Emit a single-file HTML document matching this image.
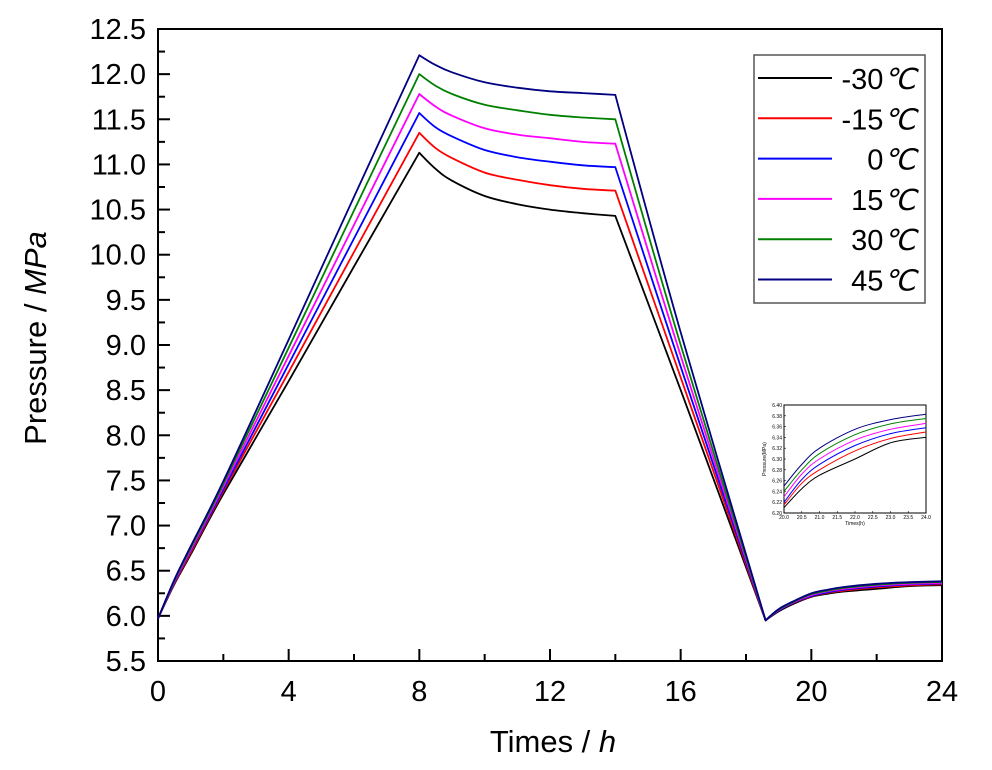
<!DOCTYPE html>
<html><head><meta charset="utf-8"><style>
body{margin:0;background:#fff;}
svg text{font-family:"Liberation Sans",sans-serif;}
</style></head><body>
<svg id="chart" width="992" height="765" xmlns="http://www.w3.org/2000/svg">
<g id="axes"></g>
<g id="series"></g>
<g id="legend"></g>
<g id="inset"></g>
</svg>
<script>
const times = [0,0.5,1,2,4,6,8,8.5,9,10,11,12,13,14,16,18.6,19,19.5,20,20.5,21,22,23,24];
const seriesNames = ["-30","-15","0","15","30","45"];
const seriesColors = ["#000000","#ff0000","#0000ff","#ff00ff","#008000","#000080"];
const sM30 = [5.97,6.35,6.68,7.35,8.6,9.87,11.13,10.95,10.82,10.65,10.56,10.5,10.46,10.43,8.5,5.95,6.05,6.14,6.21,6.245,6.27,6.30,6.33,6.34];
const sM15 = [5.97,6.36,6.7,7.38,8.7,10.03,11.35,11.18,11.07,10.91,10.83,10.77,10.73,10.71,8.64,5.95,6.06,6.15,6.215,6.255,6.28,6.315,6.338,6.35];
const s0 = [5.97,6.37,6.72,7.4,8.79,10.18,11.57,11.41,11.31,11.16,11.08,11.03,10.99,10.97,8.76,5.95,6.06,6.155,6.22,6.262,6.29,6.325,6.347,6.358];
const s15 = [5.97,6.38,6.73,7.43,8.88,10.33,11.78,11.64,11.54,11.40,11.33,11.29,11.25,11.23,8.88,5.95,6.065,6.16,6.23,6.272,6.30,6.335,6.355,6.366];
const s30 = [5.97,6.39,6.75,7.46,8.97,10.49,12.0,11.87,11.78,11.66,11.60,11.55,11.52,11.50,9.0,5.95,6.07,6.165,6.24,6.28,6.31,6.345,6.365,6.375];
const s45 = [5.97,6.40,6.77,7.49,9.06,10.64,12.21,12.10,12.02,11.91,11.85,11.81,11.79,11.77,9.14,5.95,6.075,6.17,6.25,6.29,6.32,6.355,6.373,6.383];
const allSeries = [sM30,sM15,s0,s15,s30,s45];
const xTicks = [0,4,8,12,16,20,24];
const yTicks = [5.5,6.0,6.5,7.0,7.5,8.0,8.5,9.0,9.5,10.0,10.5,11.0,11.5,12.0,12.5];
const insetXTicks = [20.0,20.5,21.0,21.5,22.0,22.5,23.0,23.5,24.0];
const insetYTicks = [6.20,6.22,6.24,6.26,6.28,6.30,6.32,6.34,6.36,6.38,6.40];

const NS="http://www.w3.org/2000/svg";
const L=158,R=942,T=29,B=661;
const x=h=>L+(h-0)/24*(R-L);
const y=v=>B-(v-5.5)/7*(B-T);
function mk(tag,attrs,parent){const e=document.createElementNS(NS,tag);for(const k in attrs)e.setAttribute(k,attrs[k]);parent.appendChild(e);return e;}
const corners=[6,13,15];
function smooth(pts){let d='M'+pts[0][0].toFixed(1)+','+pts[0][1].toFixed(1);
 for(let i=0;i<pts.length-1;i++){const p0=pts[i-1]||pts[i],p1=pts[i],p2=pts[i+1],p3=pts[i+2]||p2;
  const k=corners.includes(i)?0:1/6;
  const kb=corners.includes(i+1)?0:1/6;
  const c1=[p1[0]+(p2[0]-p0[0])*k,p1[1]+(p2[1]-p0[1])*k],c2=[p2[0]-(p3[0]-p1[0])*kb,p2[1]-(p3[1]-p1[1])*kb];
  d+='C'+c1[0].toFixed(1)+','+c1[1].toFixed(1)+' '+c2[0].toFixed(1)+','+c2[1].toFixed(1)+' '+p2[0].toFixed(1)+','+p2[1].toFixed(1);}
 return d;}
const axes=document.getElementById('axes');
let fr=mk('rect',{x:L,y:T,width:R-L,height:B-T,fill:'none',stroke:'#000','stroke-width':2},axes);


for(let i=0;i<=12;i++){const h=i*2;const major=i%2==0;
 let t=mk('line',{x1:x(h),x2:x(h),y1:B,y2:B-(major?12:7),stroke:'#000','stroke-width':2},axes);
 
 }
xTicks.forEach(h=>{let t=mk('text',{x:x(h),y:B+40,'text-anchor':'middle','font-size':29},axes);t.textContent=h;
 
 });
for(let i=0;i<=28;i++){const v=5.5+i*0.25;const major=i%2==0;
 let t=mk('line',{x1:L,x2:L+(major?12:7),y1:y(v),y2:y(v),stroke:'#000','stroke-width':2},axes);
 
 }
yTicks.forEach(v=>{let t=mk('text',{x:L-12,y:y(v)+10,'text-anchor':'end','font-size':29},axes);t.textContent=v.toFixed(1);
 
 });
let xt=mk('text',{x:553,y:752,'text-anchor':'middle','font-size':31},axes);
xt.innerHTML='Times / <tspan font-style="italic">h</tspan>';


let yt=mk('text',{x:0,y:0,'text-anchor':'middle','font-size':31,transform:'translate(46,338) rotate(-90)'},axes);
yt.innerHTML='Pressure / <tspan font-style="italic">MPa</tspan>';



const sg=document.getElementById('series');
allSeries.forEach((s,i)=>{const pts=s.map((v,j)=>[x(times[j]),y(v)]);
 let p=mk('path',{d:smooth(pts),fill:'none',stroke:seriesColors[i],'stroke-width':1.8,'stroke-linejoin':'round'},sg);
 
 });

const lg=document.getElementById('legend');
let lb=mk('rect',{x:754,y:55,width:171,height:248,fill:'#fff',stroke:'#555','stroke-width':1.5},lg);


seriesNames.forEach((n,i)=>{const yy=78+i*40.3;
 let ln=mk('line',{x1:758,x2:832,y1:yy,y2:yy,stroke:seriesColors[i],'stroke-width':2},lg);
 
 
 let t=mk('text',{x:916,y:yy+11,'text-anchor':'end','font-size':29},lg);
 t.innerHTML=n+'<tspan font-family="Liberation Serif, serif" font-style="italic">℃</tspan>';
 
 });

const ig=document.getElementById('inset');
const iL=784,iR=926,iT=405,iB=513;
const ix=h=>iL+(h-20)/4*(iR-iL);
const iy=v=>iB-(v-6.2)/0.2*(iB-iT);
let ib=mk('rect',{x:iL,y:iT,width:iR-iL,height:iB-iT,fill:'#fff',stroke:'#000','stroke-width':1},ig);


insetXTicks.forEach(h=>{let t=mk('text',{x:ix(h),y:iB+6,'text-anchor':'middle','font-size':5},ig);t.textContent=h.toFixed(1);
 
 
 mk('line',{x1:ix(h),x2:ix(h),y1:iB,y2:iB-2,stroke:'#000','stroke-width':0.6},ig);});
insetYTicks.forEach(v=>{let t=mk('text',{x:iL-2,y:iy(v)+2,'text-anchor':'end','font-size':5},ig);t.textContent=v.toFixed(2);
 
 
 mk('line',{x1:iL,x2:iL+2,y1:iy(v),y2:iy(v),stroke:'#000','stroke-width':0.6},ig);});
let ixt=mk('text',{x:(iL+iR)/2,y:iB+12,'text-anchor':'middle','font-size':5},ig);ixt.textContent='Times(h)';


let iyt=mk('text',{x:0,y:0,'text-anchor':'middle','font-size':5,transform:`translate(${iL-18},${(iT+iB)/2}) rotate(-90)`},ig);iyt.textContent='Pressure(MPa)';


allSeries.forEach((s,i)=>{let pts=[];times.forEach((t,j)=>{if(t>=20)pts.push([ix(t),iy(s[j])]);});
 let d='M'+pts[0][0].toFixed(1)+','+pts[0][1].toFixed(1);
 for(let k=0;k<pts.length-1;k++){const p0=pts[k-1]||pts[k],p1=pts[k],p2=pts[k+1],p3=pts[k+2]||p2;
  d+='C'+(p1[0]+(p2[0]-p0[0])/6).toFixed(1)+','+(p1[1]+(p2[1]-p0[1])/6).toFixed(1)+' '+(p2[0]-(p3[0]-p1[0])/6).toFixed(1)+','+(p2[1]-(p3[1]-p1[1])/6).toFixed(1)+' '+p2[0].toFixed(1)+','+p2[1].toFixed(1);}
 let p=mk('path',{d:d,fill:'none',stroke:seriesColors[i],'stroke-width':1},ig);
 
 });
</script>
</body></html>
